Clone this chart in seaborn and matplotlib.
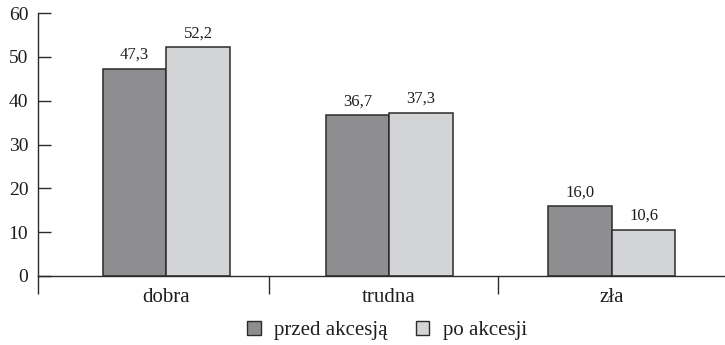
import matplotlib
matplotlib.use("Agg")
import matplotlib.pyplot as plt
import seaborn as sns
import pandas as pd

# Ocena sytuacji – odsetek odpowiedzi przed i po akcesji
categories = ["dobra", "trudna", "zła"]
series_names = ["przed akcesją", "po akcesji"]
przed = [47.3, 36.7, 16.0]
po = [52.2, 37.3, 10.6]
y_ticks = [0, 10, 20, 30, 40, 50, 60]

df = pd.DataFrame({
    "kategoria": categories * 2,
    "okres": [series_names[0]] * 3 + [series_names[1]] * 3,
    "wartosc": przed + po,
})

sns.set_theme(style="white")
plt.rcParams["font.family"] = ["Liberation Serif", "DejaVu Serif"]
text_color = "#1e1e1e"

fig = plt.figure(figsize=(7.25, 3.45), dpi=100)
ax = fig.add_axes([0.0524, 0.2, 0.9476, 0.7623])

palette = {series_names[0]: "#8e8e90", series_names[1]: "#d3d4d6"}
sns.barplot(data=df, x="kategoria", y="wartosc", hue="okres",
            order=categories, hue_order=series_names, palette=palette,
            width=0.57, edgecolor="#2b2b2b", linewidth=1.1,
            saturation=1, ax=ax, legend=False)

for container in ax.containers:
    vals = container.datavalues
    ax.bar_label(container, labels=[f"{v:.1f}".replace(".", ",") for v in vals],
                 padding=4, fontsize=12, color=text_color)

ax.set_ylim(0, 60)
ax.set_yticks(y_ticks)
ax.set_xlim(-0.576, 2.508)
ax.set_xlabel("")
ax.set_ylabel("")

for side in ["top", "right"]:
    ax.spines[side].set_visible(False)
for side in ["left", "bottom"]:
    ax.spines[side].set_color("#2b2b2b")
    ax.spines[side].set_linewidth(1.0)

ax.tick_params(axis="y", direction="in", length=9, width=1.0, color="#2b2b2b",
               labelsize=14, labelcolor=text_color, pad=7, left=True)
ax.tick_params(axis="x", which="major", length=0, labelsize=15,
               labelcolor=text_color, pad=9)
ax.set_xticks([-0.576, 0.46, 1.49], minor=True)
ax.tick_params(axis="x", which="minor", direction="out", length=13,
               width=1.0, color="#2b2b2b", bottom=True)

handles = [plt.Rectangle((0, 0), 1, 1, facecolor=palette[n], edgecolor="#2b2b2b",
                         linewidth=1.0) for n in series_names]
fig.legend(handles, series_names, loc="center", bbox_to_anchor=(0.534, 0.042),
           ncol=2, frameon=False, fontsize=15, handlelength=0.65,
           handleheight=0.65, handletextpad=0.65, columnspacing=1.35,
           labelcolor=text_color, borderpad=0, borderaxespad=0)

fig.savefig("out.png", dpi=100)
